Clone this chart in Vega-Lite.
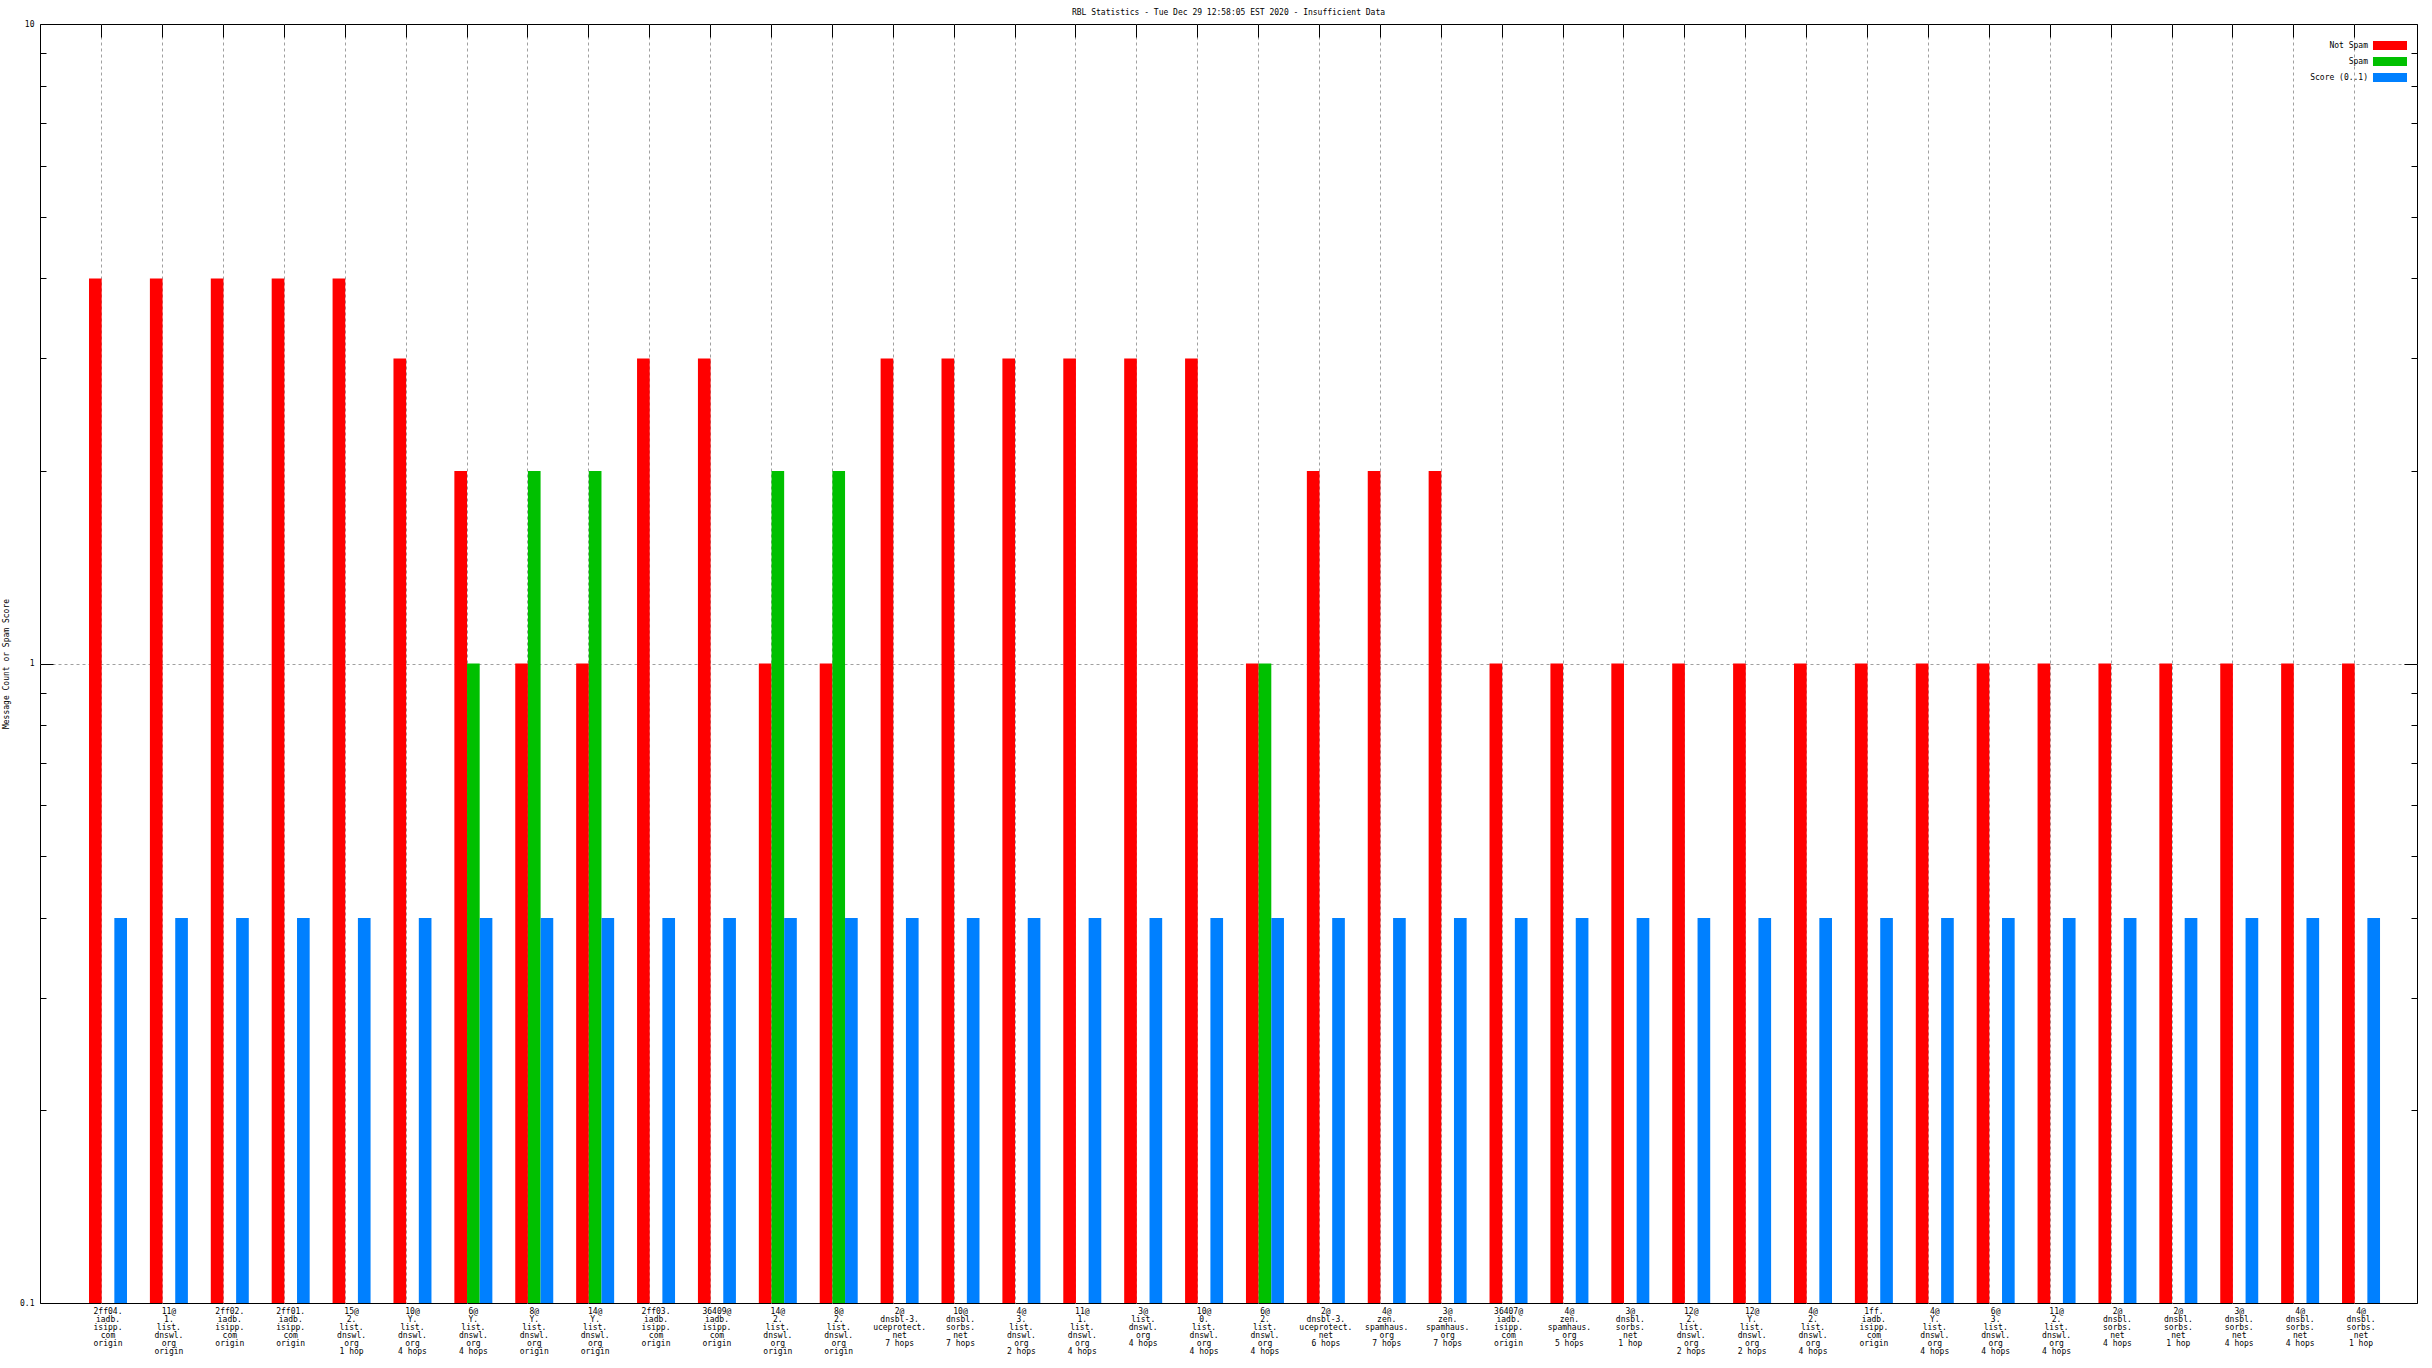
{
  "$schema": "https://vega.github.io/schema/vega-lite/v6.json",
  "width": 2377,
  "height": 1279,
  "autosize": "none",
  "padding": {"left": 40, "top": 24, "right": 15, "bottom": 65},
  "background": "white",
  "title": {"text": "RBL Statistics - Tue Dec 29 12:58:05 EST 2020 - Insufficient Data", "font": "DejaVu Sans Mono", "fontSize": 8, "fontWeight": "normal", "offset": 3, "anchor": "middle", "color": "black"},
  "config": {"view": {"stroke": "black", "strokeWidth": 1}, "font": "DejaVu Sans Mono"},
  "data": {"values": [
    {"c": "2ff04.|iadb.|isipp.|com|origin", "s": "Not Spam", "v": 4}, {"c": "2ff04.|iadb.|isipp.|com|origin", "s": "Score (0..1)", "v": 0.4},
    {"c": "11@|1.|list.|dnswl.|org|origin", "s": "Not Spam", "v": 4}, {"c": "11@|1.|list.|dnswl.|org|origin", "s": "Score (0..1)", "v": 0.4},
    {"c": "2ff02.|iadb.|isipp.|com|origin", "s": "Not Spam", "v": 4}, {"c": "2ff02.|iadb.|isipp.|com|origin", "s": "Score (0..1)", "v": 0.4},
    {"c": "2ff01.|iadb.|isipp.|com|origin", "s": "Not Spam", "v": 4}, {"c": "2ff01.|iadb.|isipp.|com|origin", "s": "Score (0..1)", "v": 0.4},
    {"c": "15@|2.|list.|dnswl.|org|1 hop", "s": "Not Spam", "v": 4}, {"c": "15@|2.|list.|dnswl.|org|1 hop", "s": "Score (0..1)", "v": 0.4},
    {"c": "10@|Y.|list.|dnswl.|org|4 hops", "s": "Not Spam", "v": 3}, {"c": "10@|Y.|list.|dnswl.|org|4 hops", "s": "Score (0..1)", "v": 0.4},
    {"c": "6@|Y.|list.|dnswl.|org|4 hops", "s": "Not Spam", "v": 2}, {"c": "6@|Y.|list.|dnswl.|org|4 hops", "s": "Spam", "v": 1}, {"c": "6@|Y.|list.|dnswl.|org|4 hops", "s": "Score (0..1)", "v": 0.4},
    {"c": "8@|Y.|list.|dnswl.|org|origin", "s": "Not Spam", "v": 1}, {"c": "8@|Y.|list.|dnswl.|org|origin", "s": "Spam", "v": 2}, {"c": "8@|Y.|list.|dnswl.|org|origin", "s": "Score (0..1)", "v": 0.4},
    {"c": "14@|Y.|list.|dnswl.|org|origin", "s": "Not Spam", "v": 1}, {"c": "14@|Y.|list.|dnswl.|org|origin", "s": "Spam", "v": 2}, {"c": "14@|Y.|list.|dnswl.|org|origin", "s": "Score (0..1)", "v": 0.4},
    {"c": "2ff03.|iadb.|isipp.|com|origin", "s": "Not Spam", "v": 3}, {"c": "2ff03.|iadb.|isipp.|com|origin", "s": "Score (0..1)", "v": 0.4},
    {"c": "36409@|iadb.|isipp.|com|origin", "s": "Not Spam", "v": 3}, {"c": "36409@|iadb.|isipp.|com|origin", "s": "Score (0..1)", "v": 0.4},
    {"c": "14@|2.|list.|dnswl.|org|origin", "s": "Not Spam", "v": 1}, {"c": "14@|2.|list.|dnswl.|org|origin", "s": "Spam", "v": 2}, {"c": "14@|2.|list.|dnswl.|org|origin", "s": "Score (0..1)", "v": 0.4},
    {"c": "8@|2.|list.|dnswl.|org|origin", "s": "Not Spam", "v": 1}, {"c": "8@|2.|list.|dnswl.|org|origin", "s": "Spam", "v": 2}, {"c": "8@|2.|list.|dnswl.|org|origin", "s": "Score (0..1)", "v": 0.4},
    {"c": "2@|dnsbl-3.|uceprotect.|net|7 hops", "s": "Not Spam", "v": 3}, {"c": "2@|dnsbl-3.|uceprotect.|net|7 hops", "s": "Score (0..1)", "v": 0.4},
    {"c": "10@|dnsbl.|sorbs.|net|7 hops", "s": "Not Spam", "v": 3}, {"c": "10@|dnsbl.|sorbs.|net|7 hops", "s": "Score (0..1)", "v": 0.4},
    {"c": "4@|3.|list.|dnswl.|org|2 hops", "s": "Not Spam", "v": 3}, {"c": "4@|3.|list.|dnswl.|org|2 hops", "s": "Score (0..1)", "v": 0.4},
    {"c": "11@|1.|list.|dnswl.|org|4 hops", "s": "Not Spam", "v": 3}, {"c": "11@|1.|list.|dnswl.|org|4 hops", "s": "Score (0..1)", "v": 0.4},
    {"c": "3@|list.|dnswl.|org|4 hops", "s": "Not Spam", "v": 3}, {"c": "3@|list.|dnswl.|org|4 hops", "s": "Score (0..1)", "v": 0.4},
    {"c": "10@|0.|list.|dnswl.|org|4 hops", "s": "Not Spam", "v": 3}, {"c": "10@|0.|list.|dnswl.|org|4 hops", "s": "Score (0..1)", "v": 0.4},
    {"c": "6@|2.|list.|dnswl.|org|4 hops", "s": "Not Spam", "v": 1}, {"c": "6@|2.|list.|dnswl.|org|4 hops", "s": "Spam", "v": 1}, {"c": "6@|2.|list.|dnswl.|org|4 hops", "s": "Score (0..1)", "v": 0.4},
    {"c": "2@|dnsbl-3.|uceprotect.|net|6 hops", "s": "Not Spam", "v": 2}, {"c": "2@|dnsbl-3.|uceprotect.|net|6 hops", "s": "Score (0..1)", "v": 0.4},
    {"c": "4@|zen.|spamhaus.|org|7 hops", "s": "Not Spam", "v": 2}, {"c": "4@|zen.|spamhaus.|org|7 hops", "s": "Score (0..1)", "v": 0.4},
    {"c": "3@|zen.|spamhaus.|org|7 hops", "s": "Not Spam", "v": 2}, {"c": "3@|zen.|spamhaus.|org|7 hops", "s": "Score (0..1)", "v": 0.4},
    {"c": "36407@|iadb.|isipp.|com|origin", "s": "Not Spam", "v": 1}, {"c": "36407@|iadb.|isipp.|com|origin", "s": "Score (0..1)", "v": 0.4},
    {"c": "4@|zen.|spamhaus.|org|5 hops", "s": "Not Spam", "v": 1}, {"c": "4@|zen.|spamhaus.|org|5 hops", "s": "Score (0..1)", "v": 0.4},
    {"c": "3@|dnsbl.|sorbs.|net|1 hop", "s": "Not Spam", "v": 1}, {"c": "3@|dnsbl.|sorbs.|net|1 hop", "s": "Score (0..1)", "v": 0.4},
    {"c": "12@|2.|list.|dnswl.|org|2 hops", "s": "Not Spam", "v": 1}, {"c": "12@|2.|list.|dnswl.|org|2 hops", "s": "Score (0..1)", "v": 0.4},
    {"c": "12@|Y.|list.|dnswl.|org|2 hops", "s": "Not Spam", "v": 1}, {"c": "12@|Y.|list.|dnswl.|org|2 hops", "s": "Score (0..1)", "v": 0.4},
    {"c": "4@|2.|list.|dnswl.|org|4 hops", "s": "Not Spam", "v": 1}, {"c": "4@|2.|list.|dnswl.|org|4 hops", "s": "Score (0..1)", "v": 0.4},
    {"c": "1ff.|iadb.|isipp.|com|origin", "s": "Not Spam", "v": 1}, {"c": "1ff.|iadb.|isipp.|com|origin", "s": "Score (0..1)", "v": 0.4},
    {"c": "4@|Y.|list.|dnswl.|org|4 hops", "s": "Not Spam", "v": 1}, {"c": "4@|Y.|list.|dnswl.|org|4 hops", "s": "Score (0..1)", "v": 0.4},
    {"c": "6@|3.|list.|dnswl.|org|4 hops", "s": "Not Spam", "v": 1}, {"c": "6@|3.|list.|dnswl.|org|4 hops", "s": "Score (0..1)", "v": 0.4},
    {"c": "11@|2.|list.|dnswl.|org|4 hops", "s": "Not Spam", "v": 1}, {"c": "11@|2.|list.|dnswl.|org|4 hops", "s": "Score (0..1)", "v": 0.4},
    {"c": "2@|dnsbl.|sorbs.|net|4 hops", "s": "Not Spam", "v": 1}, {"c": "2@|dnsbl.|sorbs.|net|4 hops", "s": "Score (0..1)", "v": 0.4},
    {"c": "2@|dnsbl.|sorbs.|net|1 hop", "s": "Not Spam", "v": 1}, {"c": "2@|dnsbl.|sorbs.|net|1 hop", "s": "Score (0..1)", "v": 0.4},
    {"c": "3@|dnsbl.|sorbs.|net|4 hops", "s": "Not Spam", "v": 1}, {"c": "3@|dnsbl.|sorbs.|net|4 hops", "s": "Score (0..1)", "v": 0.4},
    {"c": "4@|dnsbl.|sorbs.|net|4 hops", "s": "Not Spam", "v": 1}, {"c": "4@|dnsbl.|sorbs.|net|4 hops", "s": "Score (0..1)", "v": 0.4},
    {"c": "4@|dnsbl.|sorbs.|net|1 hop", "s": "Not Spam", "v": 1}, {"c": "4@|dnsbl.|sorbs.|net|1 hop", "s": "Score (0..1)", "v": 0.4}
  ]},
  "layer": [
    {
      "mark": {"type": "bar"},
      "encoding": {
        "x": {"field": "c", "type": "nominal", "sort": null,
          "scale": {"paddingInner": 0.376, "paddingOuter": 0.706, "align": 0.57},
          "axis": {"orient": "bottom", "title": null, "labelExpr": "split(datum.label, '|')", "labelAngle": 0, "labelAlign": "center", "labelBaseline": "top", "labelFont": "DejaVu Sans Mono", "labelFontSize": 8, "labelLineHeight": 8, "labelPadding": 4, "labelColor": "black", "labelOverlap": false, "labelLimit": 0, "ticks": false, "domain": false, "grid": true, "gridColor": "#a0a0a0", "gridDash": [3, 3], "bandPosition": 0.333}},
        "xOffset": {"field": "s", "type": "nominal", "scale": {"domain": ["Not Spam", "Spam", "Score (0..1)"], "paddingInner": 0, "paddingOuter": 0}},
        "y": {"field": "v", "type": "quantitative",
          "scale": {"type": "log", "domain": [0.1, 10], "nice": false},
          "axis": {"orient": "left", "values": [0.1, 1, 10], "labelExpr": "datum.value < 0.5 ? '0.1' : datum.value < 5 ? '1' : '10'", "labelFont": "DejaVu Sans Mono", "labelFontSize": 8, "labelColor": "black", "labelPadding": 6, "ticks": false, "domain": false, "grid": false, "title": "Message Count or Spam Score", "titleFont": "DejaVu Sans Mono", "titleFontSize": 8, "titleFontWeight": "normal", "titleColor": "black", "titleX": -34, "titleY": 639.5, "titleAngle": -90, "titleAlign": "center", "titleBaseline": "middle"}},
        "y2": {"datum": 0.1},
        "color": {"field": "s", "type": "nominal",
          "scale": {"domain": ["Not Spam", "Spam", "Score (0..1)"], "range": ["#ff0000", "#00c000", "#0080ff"]},
          "legend": {"title": null, "orient": "none", "legendX": 2345.5, "legendY": 17, "padding": 0, "symbolType": "M-3.78,-1H3.78V1H-3.78Z", "symbolSize": 81, "symbolStrokeWidth": 0, "labelFont": "DejaVu Sans Mono", "labelFontSize": 8, "labelColor": "black", "labelAlign": "right", "labelOffset": -26.5, "rowPadding": 7}}
      }
    },
    {
      "mark": {"type": "bar", "opacity": 0},
      "encoding": {
        "x": {"field": "c", "type": "nominal", "sort": null,
          "axis": {"orient": "top", "title": null, "labels": false, "ticks": true, "tickSize": -13, "tickColor": "black", "domain": false, "grid": false, "bandPosition": 0.333}},
        "y": {"field": "v", "type": "quantitative",
          "scale": {"type": "log", "domain": [0.1, 10], "nice": false},
          "axis": {"orient": "right", "values": [0.1, 1, 10], "labels": false, "ticks": true, "tickSize": -13, "tickColor": "black", "domain": false, "grid": false, "title": null}},
        "y2": {"datum": 0.1}
      }
    },
    {
      "mark": {"type": "bar", "opacity": 0},
      "encoding": {
        "x": {"field": "c", "type": "nominal", "sort": null, "axis": null},
        "y": {"field": "v", "type": "quantitative",
          "scale": {"type": "log", "domain": [0.1, 10], "nice": false},
          "axis": {"orient": "left", "values": [0.1, 1, 10], "labels": false, "ticks": true, "tickSize": -13, "tickColor": "black", "domain": false, "grid": false, "title": null}},
        "y2": {"datum": 0.1}
      }
    },
    {
      "mark": {"type": "bar", "opacity": 0},
      "encoding": {
        "x": {"field": "c", "type": "nominal", "sort": null, "axis": null},
        "y": {"field": "v", "type": "quantitative",
          "scale": {"type": "log", "domain": [0.1, 10], "nice": false},
          "axis": {"orient": "left", "values": [0.2, 0.3, 0.4, 0.5, 0.6, 0.7, 0.8, 0.9, 2, 3, 4, 5, 6, 7, 8, 9], "labels": false, "ticks": true, "tickSize": -6, "tickColor": "black", "domain": false, "grid": false, "title": null}},
        "y2": {"datum": 0.1}
      }
    },
    {
      "mark": {"type": "bar", "opacity": 0},
      "encoding": {
        "x": {"field": "c", "type": "nominal", "sort": null, "axis": null},
        "y": {"field": "v", "type": "quantitative",
          "scale": {"type": "log", "domain": [0.1, 10], "nice": false},
          "axis": {"orient": "right", "values": [0.2, 0.3, 0.4, 0.5, 0.6, 0.7, 0.8, 0.9, 2, 3, 4, 5, 6, 7, 8, 9], "labels": false, "ticks": true, "tickSize": -6, "tickColor": "black", "domain": false, "grid": false, "title": null}},
        "y2": {"datum": 0.1}
      }
    },
    {
      "mark": {"type": "bar", "opacity": 0},
      "encoding": {
        "x": {"field": "c", "type": "nominal", "sort": null, "axis": null},
        "y": {"field": "v", "type": "quantitative",
          "scale": {"type": "log", "domain": [0.1, 10], "nice": false},
          "axis": {"orient": "left", "values": [1], "labels": false, "ticks": false, "domain": false, "grid": true, "gridColor": "#a0a0a0", "gridDash": [3, 3], "title": null}},
        "y2": {"datum": 0.1}
      }
    }
  ],
  "resolve": {"axis": {"x": "independent", "y": "independent"}}
}
